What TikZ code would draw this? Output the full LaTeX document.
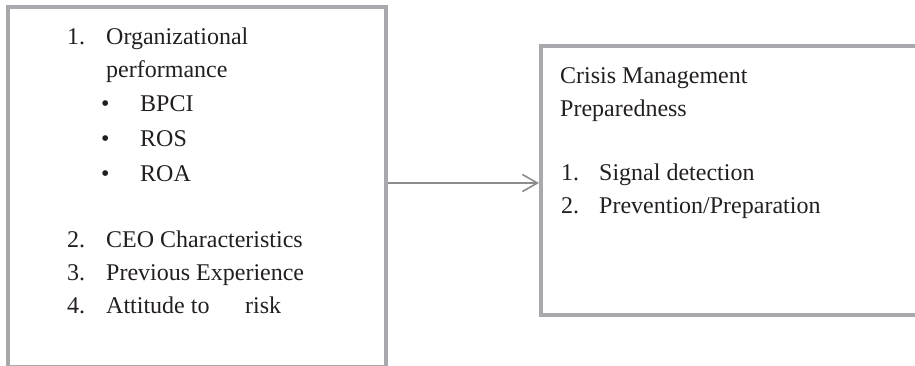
\documentclass[tikz,border=0pt]{standalone}
\usepackage{fontspec}
\setmainfont{Liberation Serif}
\usetikzlibrary{arrows.meta}
\definecolor{boxgray}{HTML}{A7A9AC}
\definecolor{arrgray}{HTML}{8A8C8E}
\definecolor{txt}{HTML}{231F20}
\begin{document}
\begin{tikzpicture}[x=1pt,y=-1pt,
  frame/.style={draw=boxgray, line width=4pt, rectangle, inner sep=0pt, fill=none},
  lbl/.style={anchor=base west, inner sep=0pt, text=txt, font=\fontsize{24}{28}\selectfont},
  arr/.style={draw=arrgray, line width=1.6pt, -{Straight Barb[length=15pt,width=17pt,line width=1.6pt]}}]
\useasboundingbox (0,0) rectangle (915,365);
\node[frame, minimum width=378pt, minimum height=360pt] (L) at (197,187) {};
\node[frame, minimum width=376pt, minimum height=269pt] (R) at (729,180.5) {};
\coordinate (ay) at (0,183);
\draw[arr] (L.east |- ay) -- (R.west |- ay);
% left box text
\node[lbl] (n1) at (67,44) {1.};
\node[lbl] (t1) at (106,44) {Organizational};
\node[lbl] (t1b) at (106,77) {performance};
\node[lbl] (b1) at (101,111) {•};
\node[lbl] (s1) at (140,111) {BPCI};
\node[lbl] (b2) at (101,146) {•};
\node[lbl] (s2) at (140,146) {ROS};
\node[lbl] (b3) at (101,181) {•};
\node[lbl] (s3) at (140,181) {ROA};
\node[lbl] (n2) at (67,247) {2.};
\node[lbl] (t2) at (106,247) {CEO Characteristics};
\node[lbl] (n3) at (67,280) {3.};
\node[lbl] (t3) at (106,280) {Previous Experience};
\node[lbl] (n4) at (67,313) {4.};
\node[lbl] (t4) at (106,313) {Attitude to};
\node[lbl] (t4b) at (245,313) {risk};
% right box text
\node[lbl] (h1) at (560,83) {Crisis Management};
\node[lbl] (h2) at (560,116) {Preparedness};
\node[lbl] (m1) at (561,180) {1.};
\node[lbl] (r1) at (599,180) {Signal detection};
\node[lbl] (m2) at (561,213) {2.};
\node[lbl] (r2) at (599,213) {Prevention/Preparation};
\end{tikzpicture}
\end{document}
